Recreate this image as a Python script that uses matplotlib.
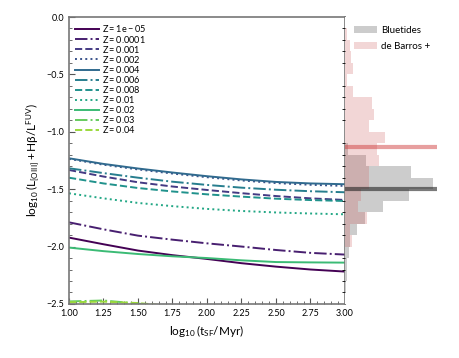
import numpy as np
import matplotlib
matplotlib.use("Agg")
import matplotlib.pyplot as plt
from matplotlib.ticker import MultipleLocator

plt.rcParams['font.family'] = ['Lato', 'DejaVu Sans']
plt.rcParams['mathtext.fontset'] = 'custom'
plt.rcParams['mathtext.rm'] = 'Lato'
plt.rcParams['mathtext.it'] = 'Lato'
plt.rcParams['mathtext.default'] = 'regular'

# -------------------------------------------------
# DATA
# -------------------------------------------------
log_t = [1.0, 1.25, 1.5, 1.75, 2.0, 2.25, 2.5, 2.75, 3.0]

metallicities = ["1e-05", "0.0001", "0.001", "0.002", "0.004", "0.006",
                 "0.008", "0.01", "0.02", "0.03", "0.04"]

ratio_z1e5 = [-1.922, -1.98, -2.035, -2.075, -2.108, -2.145, -2.175, -2.200, -2.218]
ratio_z1e4 = [-1.789, -1.85, -1.905, -1.940, -1.972, -2.000, -2.030, -2.055, -2.070]
ratio_z001 = [-1.333, -1.39, -1.440, -1.477, -1.507, -1.535, -1.560, -1.580, -1.594]
ratio_z002 = [-1.236, -1.287, -1.328, -1.364, -1.396, -1.424, -1.447, -1.462, -1.472]
ratio_z004 = [-1.231, -1.280, -1.320, -1.355, -1.387, -1.415, -1.437, -1.450, -1.457]
ratio_z006 = [-1.318, -1.360, -1.400, -1.435, -1.463, -1.487, -1.505, -1.518, -1.527]
ratio_z008 = [-1.400, -1.450, -1.490, -1.520, -1.545, -1.565, -1.583, -1.595, -1.603]
ratio_z01 = [-1.536, -1.580, -1.620, -1.648, -1.672, -1.690, -1.703, -1.712, -1.719]
ratio_z02 = [-2.009, -2.040, -2.065, -2.085, -2.100, -2.120, -2.135, -2.138, -2.140]
ratio_z03 = [-2.478, -2.470, -2.497, -2.530, -2.560, -2.590, -2.610, -2.630, -2.640]
ratio_z04 = [-2.485, -2.480, -2.492, -2.520, -2.550, -2.580, -2.600, -2.620, -2.630]

ratios = [ratio_z1e5, ratio_z1e4, ratio_z001, ratio_z002, ratio_z004, ratio_z006,
          ratio_z008, ratio_z01, ratio_z02, ratio_z03, ratio_z04]

# histogram bins (log ratio), density per bin
bin_edges = [-0.1, -0.2, -0.3, -0.4, -0.5, -0.6, -0.7, -0.8, -0.9, -1.0, -1.1,
             -1.2, -1.3, -1.4, -1.5, -1.6, -1.7, -1.8, -1.9, -2.0, -2.1, -2.2,
             -2.3, -2.4]
bluetides_density = [0, 0, 0, 0, 0, 0, 0, 0, 0, 0, 0.09, 0.64, 2.02, 2.69, 1.97,
                     1.17, 0.61, 0.36, 0.15, 0.13, 0.07, 0.05, 0.03]
debarros_density = [0.07, 0.15, 0.17, 0.24, 0.07, 0.24, 0.82, 0.90, 0.73, 1.22,
                    0.98, 1.05, 0.73, 0.73, 0.48, 0.41, 0.66, 0.15, 0.22, 0, 0,
                    0, 0]
bluetides_median = -1.50
debarros_median = -1.13

# -------------------------------------------------
# PLOT
# -------------------------------------------------
fig = plt.figure(figsize=(4.6, 3.58), dpi=100)
ax = fig.add_axes([0.15, 0.151, 0.6, 0.8015])
axh = fig.add_axes([0.75, 0.151, 0.2, 0.8015], sharey=ax)

colors = plt.cm.viridis(np.linspace(0, 0.85, len(metallicities)))
styles = ['-', '-.', '--', ':']

for i, (z, r) in enumerate(zip(metallicities, ratios)):
    ax.plot(log_t, r, color=colors[i], ls=styles[i % 4], lw=1.4,
            label=r'$Z = %s$' % z)

ax.set_xlim(1.0, 3.0)
ax.set_ylim(-2.5, 0.0)
ax.xaxis.set_major_locator(MultipleLocator(0.25))
ax.xaxis.set_minor_locator(MultipleLocator(0.05))
ax.yaxis.set_major_locator(MultipleLocator(0.5))
ax.yaxis.set_minor_locator(MultipleLocator(0.1))
ax.tick_params(which='both', direction='in', labelsize=6.5, color='#555555')
ax.tick_params(which='major', length=4)
ax.tick_params(which='minor', length=2)
for s in ax.spines.values():
    s.set_color('#777777')
    s.set_linewidth(1.2)
ax.set_xlabel(r'$\log_{10}(t_{SF}/Myr)$', fontsize=8.5)
ax.set_ylabel(r'$\log_{10}(L_{[OIII]} + H\beta/L^{FUV})$', fontsize=8.5)
ax.legend(loc='upper left', frameon=False, fontsize=6.6, handlelength=2.6,
          labelspacing=-0.1, handletextpad=0.25, borderaxespad=0.3)

# histograms
tops = bin_edges[:-1]
heights = np.diff(bin_edges)
axh.barh(tops, bluetides_density, height=heights, align='edge',
         color='grey', alpha=0.4, label='Bluetides')
axh.barh(tops, debarros_density, height=heights, align='edge',
         color='indianred', alpha=0.25, label='de Barros +')
axh.axhline(bluetides_median, color='#222222', alpha=0.6, lw=3)
axh.axhline(debarros_median, color='#d04040', alpha=0.5, lw=3)
axh.set_xlim(0, 2.82)
for s in axh.spines.values():
    s.set_visible(False)
axh.tick_params(left=False, bottom=False, labelleft=False, labelbottom=False)
axh.legend(loc='upper left', frameon=False, fontsize=7, handlelength=2.4,
           handletextpad=0.4, bbox_to_anchor=(0.0, 1.0), labelspacing=0.7)

fig.savefig("out.png", dpi=100)
